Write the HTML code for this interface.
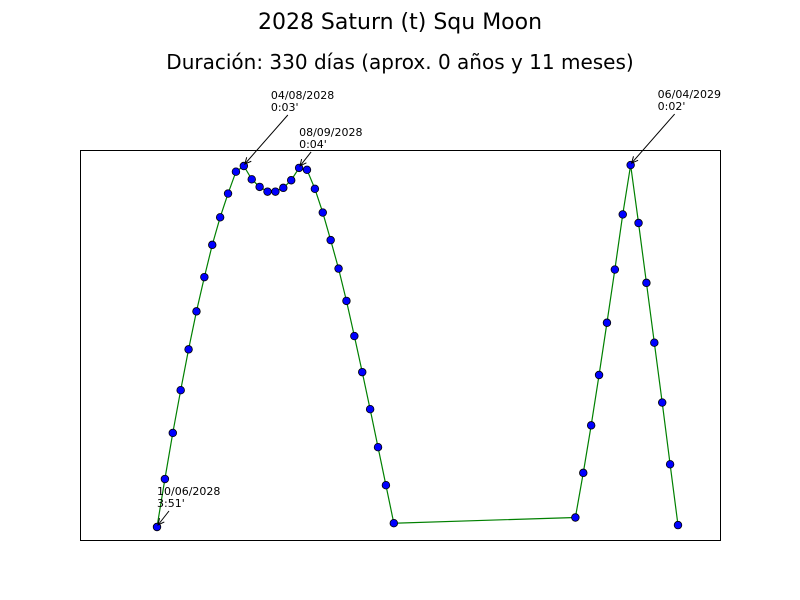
<!DOCTYPE html>
<html><head><meta charset="utf-8"><style>
body{margin:0;background:#fff}
svg{display:block;font-family:"DejaVu Sans","Liberation Sans",sans-serif}
</style></head><body>
<svg id="c" width="800" height="600">
<text x="400" y="29" text-anchor="middle" font-size="22">2028 Saturn (t) Squ Moon</text>
<text x="400" y="69" text-anchor="middle" font-size="20">Duración: 330 días (aprox. 0 años y 11 meses)</text>
<rect x="80.5" y="150.5" width="640" height="390" fill="none" stroke="#000"/>
<g id="marks"></g>
<g id="ann" font-size="11"></g>
</svg>
<script>
const days=[0,5,10,15,20,25,30,35,40,45,50,55,60,65,70,75,80,85,90,95,100,105,110,115,120,125,130,135,140,145,150,265,270,275,280,285,290,295,300,305,310,315,320,325,330];
const orbs=[3.85,3.345,2.86,2.41,1.98,1.58,1.22,0.88,0.59,0.34,0.11,0.05,0.19,0.27,0.32,0.32,0.28,0.20,0.07,0.09,0.29,0.54,0.83,1.13,1.47,1.84,2.22,2.61,3.01,3.41,3.81,3.75,3.28,2.78,2.25,1.70,1.14,0.56,0.04,0.65,1.28,1.91,2.54,3.19,3.83];
const annIdx=[0,11,18,38];
const annDate=["10/06/2028","04/08/2028","08/09/2028","06/04/2029"];
const annOrb=["3:51'","0:03'","0:04'","0:02'"];
const annDx=[0,27,0,27];
const annDy=[-24,-59,-24,-59];
const X=d=>157+d*(521/330);
const Y=v=>161.25+v*95;
const NS="http://www.w3.org/2000/svg";
const g=document.getElementById('marks');
const line=document.createElementNS(NS,'polyline');
line.setAttribute('points',days.map((d,i)=>X(d)+','+Y(orbs[i])).join(' '));
line.setAttribute('fill','none');line.setAttribute('stroke','#008000');line.setAttribute('stroke-width','1.2');


g.appendChild(line);
days.forEach((d,i)=>{
 const c=document.createElementNS(NS,'circle');
 c.setAttribute('cx',X(d));c.setAttribute('cy',Y(orbs[i]));c.setAttribute('r','3.8');
 c.setAttribute('fill','#0000ff');c.setAttribute('stroke','#000');c.setAttribute('stroke-width','0.8');
 
 
 g.appendChild(c);
});
const a=document.getElementById('ann');
annIdx.forEach((k,j)=>{
 const px=X(days[k]),py=Y(orbs[k]);
 const tx=px+annDx[j],ty=py+annDy[j];
 const gg=document.createElementNS(NS,'g');
 
 
 const t1=document.createElementNS(NS,'text');t1.setAttribute('x',tx);t1.setAttribute('y',ty-8);t1.textContent=annDate[j];
 const t2=document.createElementNS(NS,'text');t2.setAttribute('x',tx);t2.setAttribute('y',ty+4);t2.textContent=annOrb[j];
 const l=document.createElementNS(NS,'line');
 const sx=tx+(annDx[j]?17:12),sy=ty+8;
 l.setAttribute('x1',sx);l.setAttribute('y1',sy);l.setAttribute('x2',px+1);l.setAttribute('y2',py-2);
 l.setAttribute('stroke','#000');
 const ang=Math.atan2(py-2-sy,px+1-sx);
 const h=document.createElementNS(NS,'polyline');
 const ex=px+1,ey=py-2;
 h.setAttribute('points',(ex-7*Math.cos(ang-0.45))+','+(ey-7*Math.sin(ang-0.45))+' '+ex+','+ey+' '+(ex-7*Math.cos(ang+0.45))+','+(ey-7*Math.sin(ang+0.45)));
 h.setAttribute('fill','none');h.setAttribute('stroke','#000');
 gg.appendChild(t1);gg.appendChild(t2);gg.appendChild(l);gg.appendChild(h);
 a.appendChild(gg);
});
</script>
</body></html>
